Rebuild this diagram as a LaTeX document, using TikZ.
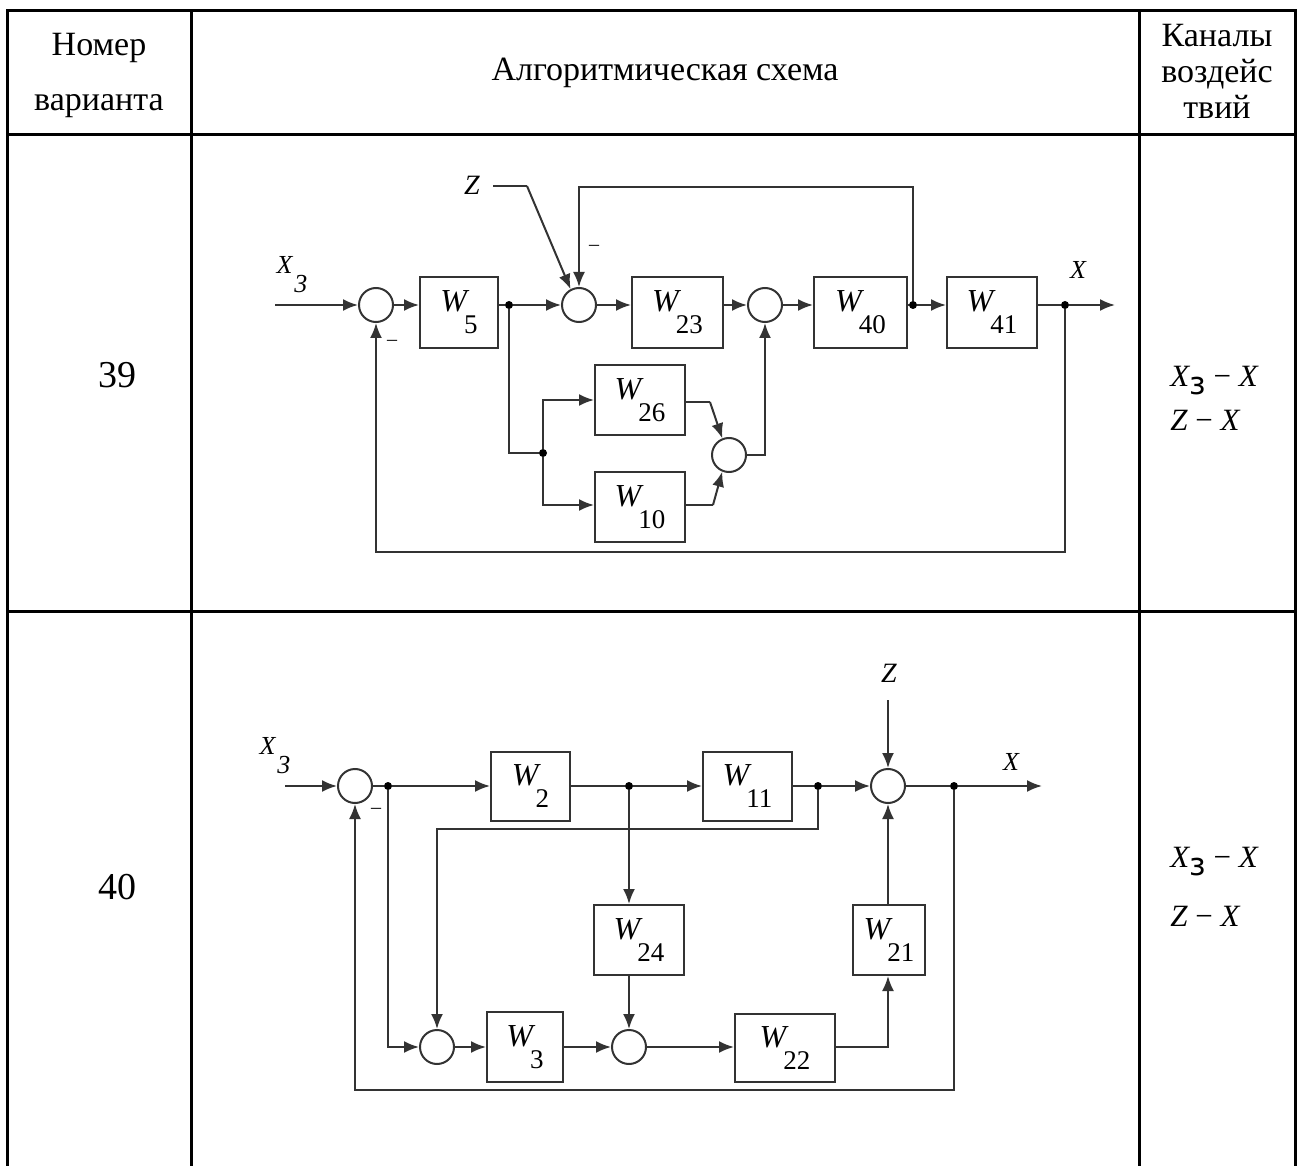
\documentclass[tikz,border=0pt]{standalone}
\usepackage{fontspec}
\setmainfont{Liberation Serif}
\newfontfamily\subfont{DejaVu Sans}
\usetikzlibrary{arrows.meta}
\newcommand{\Wn}[1]{{\fontsize{16}{17}\selectfont\itshape W}\kern-1.5pt\raisebox{-11pt}{\fontsize{13.5}{14}\selectfont #1}}
\newcommand{\Xz}{{\itshape X}\kern1pt\raisebox{-9.5pt}{\itshape 3}}
\begin{document}
\begin{tikzpicture}[x=0.5pt,y=-0.5pt,
 tbl/.style={line width=1.5pt},
 ln/.style={line width=1pt,draw=black!80},
 arr/.style={ln,-{Latex[length=7.5pt,width=6pt]}},
 blk/.style={draw=black!80,line width=1pt,minimum height=35pt,inner sep=0pt},
 sm/.style={circle,draw=black!80,line width=1pt,minimum size=17pt,inner sep=0pt},
 dot/.style={circle,fill=black,minimum size=4pt,inner sep=0pt},
 lab/.style={font=\fontsize{13}{14}\selectfont\itshape,inner sep=0pt},
 hdr/.style={align=center,inner sep=0pt},
 cell/.style={font=\fontsize{15.5}{16}\selectfont,anchor=west,inner sep=0pt},
 minus/.style={inner sep=0pt,font=\fontsize{10}{10}\selectfont},
]
\useasboundingbox (0,0) rectangle (1302,1166);
% table
\draw[tbl] (7,1166) -- (7,11) -- (1295,11) -- (1295,1166);
\draw[tbl] (191,11) -- (191,1166);
\draw[tbl] (1139,11) -- (1139,1166);
\draw[tbl] (7,135) -- (1295,135);
\draw[tbl] (7,611) -- (1295,611);
\node[hdr,font=\fontsize{17}{27.5}\selectfont] (h1) at (99,75) {Номер\\варианта};
\node[hdr,font=\fontsize{17}{27.5}\selectfont] (h2) at (665,73) {Алгоритмическая схема};
\node[hdr,font=\fontsize{17}{18}\selectfont] (h3) at (1217,71) {Каналы\\воздейс\\твий};
\node[font=\fontsize{19}{20}\selectfont] (n39) at (117,375) {39};
\node[font=\fontsize{19}{20}\selectfont] (n40) at (117,887) {40};
\node[cell] (c39a) at (1170,381) {{\itshape X}\raisebox{-4pt}{\subfont\fontsize{15.5}{16}\selectfont з} − {\itshape X}};
\node[cell] (c39b) at (1170,420) {{\itshape Z} − {\itshape X}};
\node[cell] (c40a) at (1170,862) {{\itshape X}\raisebox{-4pt}{\subfont\fontsize{15.5}{16}\selectfont з} − {\itshape X}};
\node[cell] (c40b) at (1170,916) {{\itshape Z} − {\itshape X}};

% ---------- diagram 39 ----------
\coordinate (in1) at (275,305);
\node[lab] (xz1) at (292,275) {\Xz};
\node[sm] (s1) at (376,305) {};
\node[blk,minimum width=39pt,minimum height=35.5pt] (w5) at (459,312.5) {\Wn{5}};
\node[dot] (d1) at (509,305) {};
\node[sm] (s2) at (579,305) {};
\node[blk,minimum width=45.5pt,minimum height=35.5pt] (w23) at (677.5,312.5) {\Wn{23}};
\node[sm] (s3) at (765,305) {};
\node[blk,minimum width=46.5pt,minimum height=35.5pt] (w40) at (860.5,312.5) {\Wn{40}};
\node[dot] (d2) at (913,305) {};
\node[blk,minimum width=45pt,minimum height=35.5pt] (w41) at (992,312.5) {\Wn{41}};
\node[dot] (d3) at (1065,305) {};
\coordinate (out1) at (1115,305);
\node[lab] (x1) at (1078,270) {X};
\node[lab,font=\fontsize{14}{14}\selectfont\itshape] (z1) at (472,185) {Z};
\coordinate (z1a) at (493,186);
\coordinate (z1b) at (527,186);
\coordinate (top1) at (913,187);
\node[minus] (m2) at (594,248) {–};
\node[minus] (m1) at (392,343) {–};
\coordinate (fb1) at (1065,552);
\node[dot] (d4) at (543,453) {};
\coordinate (b1) at (509,453);
\node[blk,minimum width=45pt,minimum height=35pt] (w26) at (640,400) {\Wn{26}};
\node[blk,minimum width=45pt,minimum height=35pt] (w10) at (640,507) {\Wn{10}};
\node[sm] (s4) at (729,455) {};
\coordinate (k1) at (710,402);
\coordinate (k2) at (713,505);

\draw[arr] (in1) -- (s1.west);
\draw[arr] (s1.east) -- (s1.east -| w5.west);
\draw[ln] (w5.east |- d1) -- (d1);
\draw[arr] (d1) -- (s2.west);
\draw[arr] (s2.east) -- (s2.east -| w23.west);
\draw[arr] (w23.east |- s3) -- (s3.west);
\draw[arr] (s3.east) -- (s3.east -| w40.west);
\draw[ln] (w40.east |- d2) -- (d2);
\draw[arr] (d2) -- (d2 -| w41.west);
\draw[ln] (w41.east |- d3) -- (d3);
\draw[arr] (d3) -- (out1);
\draw[ln] (z1a) -- (z1b);
\draw[arr] (z1b) -- (s2.118);
\draw[arr] (d2) -- (top1) -- (top1 -| s2.north) -- (s2.north);
\draw[arr] (d3) -- (fb1) -- (fb1 -| s1.south) -- (s1.south);
\draw[ln] (d1) -- (b1) -- (d4);
\draw[arr] (d4) |- (w26.west);
\draw[arr] (d4) |- (w10.west |- k2);
\draw[ln] (w26.east |- k1) -- (k1);
\draw[arr] (k1) -- (s4.112);
\draw[ln] (w10.east |- k2) -- (k2);
\draw[arr] (k2) -- (s4.248);
\draw[arr] (s4.east) -| (s3.south);

% ---------- diagram 40 ----------
\coordinate (in2) at (285,786);
\node[lab] (xz2) at (275,756) {\Xz};
\node[sm] (s5) at (355,786) {};
\node[dot] (d5) at (388,786) {};
\node[blk,minimum width=39.5pt,minimum height=34.5pt] (w2) at (530.5,786.5) {\Wn{2}};
\node[dot] (d6) at (629,786) {};
\node[blk,minimum width=44.5pt,minimum height=34.5pt] (w11) at (747.5,786.5) {\Wn{11}};
\node[dot] (d7) at (818,786) {};
\node[sm] (s7) at (888,786) {};
\node[lab,font=\fontsize{14}{14}\selectfont\itshape] (z2) at (889,673) {Z};
\coordinate (z2a) at (888,700);
\node[dot] (d8) at (954,786) {};
\coordinate (out2) at (1042,786);
\node[lab] (x2) at (1011,762) {X};
\node[minus] (m3) at (376,811) {–};
\coordinate (h829) at (818,829);
\node[sm] (s8) at (437,1047) {};
\node[blk,minimum width=38pt,minimum height=35pt] (w3) at (525,1047) {\Wn{3}};
\node[sm] (s9) at (629,1047) {};
\node[blk,minimum width=45pt,minimum height=35pt] (w24) at (639,940) {\Wn{24}};
\node[blk,minimum width=50pt,minimum height=34pt] (w22) at (785,1048) {\Wn{22}};
\node[blk,minimum width=36pt,minimum height=35pt] (w21) at (889,940) {\Wn{21}};
\coordinate (fb2) at (954,1090);

\draw[arr] (in2) -- (s5.west);
\draw[ln] (s5.east) -- (d5);
\draw[arr] (d5) -- (d5 -| w2.west);
\draw[ln] (w2.east |- d6) -- (d6);
\draw[arr] (d6) -- (d6 -| w11.west);
\draw[ln] (w11.east |- d7) -- (d7);
\draw[arr] (d7) -- (s7.west);
\draw[arr] (z2a) -- (s7.north);
\draw[ln] (s7.east) -- (d8);
\draw[arr] (d8) -- (out2);
\draw[arr] (d7) -- (h829) -- (h829 -| s8.north) -- (s8.north);
\draw[arr] (d5) |- (s8.west);
\draw[arr] (s8.east) -- (s8.east -| w3.west);
\draw[arr] (w3.east |- s9) -- (s9.west);
\draw[arr] (d6) -- (d6 |- w24.north);
\draw[arr] (w24.south -| s9.north) -- (s9.north);
\draw[arr] (s9.east) -- (s9.east -| w22.west);
\draw[arr] (w22.east |- s9) -| (s7.south |- w21.south);
\draw[arr] (s7.south |- w21.north) -- (s7.south);
\draw[arr] (d8) -- (fb2) -- (fb2 -| s5.south) -- (s5.south);
\end{tikzpicture}
\end{document}
